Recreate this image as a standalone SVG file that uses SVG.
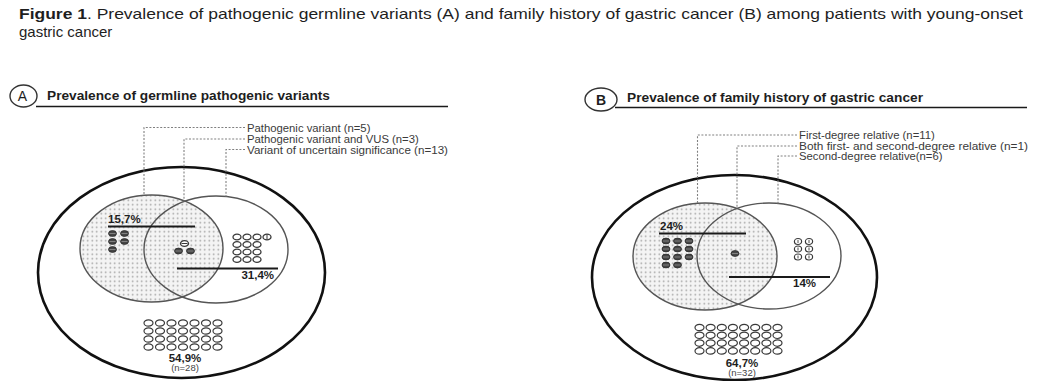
<svg xmlns="http://www.w3.org/2000/svg" xmlns:xlink="http://www.w3.org/1999/xlink" width="1050" height="381" viewBox="0 0 1050 381">
<style>
text{font-family:"Liberation Sans",Arial,Helvetica,sans-serif;fill:#1e1e1e}
.title{font-size:15px}
.hdr{font-size:13.5px;font-weight:bold}
.tag{font-size:14px}
.leg{font-size:11.3px;fill:#3a3a3a}
.pct{font-size:11.5px;font-weight:bold}
.n{font-size:9.5px;fill:#444}
.outer{fill:none;stroke:#111;stroke-width:2.6}
.venn{stroke:#555;stroke-width:1.4}
.rule{stroke:#1a1a1a;stroke-width:1.3}
.bar{stroke:#1a1a1a;stroke-width:2}
.dash{fill:none;stroke:#808080;stroke-width:1.1;stroke-dasharray:2 1.6}
.tagring{fill:none;stroke:#333;stroke-width:1.4}
</style>
<defs>
<pattern id="dots" width="4.5" height="4.5" patternUnits="userSpaceOnUse">
<rect width="4.5" height="4.5" fill="#f4f4f4"/>
<circle cx="2.25" cy="2.25" r="0.8" fill="#9c9c9c"/>
</pattern>
<g id="fd"><ellipse rx="4" ry="2.9" fill="#454545" stroke="#2a2a2a" stroke-width="0.8"/><line x1="-3" y1="0" x2="3" y2="0" stroke="#9a9a9a" stroke-width="0.7"/></g>
<g id="od"><ellipse rx="4" ry="2.9" fill="#fff" stroke="#3a3a3a" stroke-width="1.3"/></g>
<g id="odm"><ellipse rx="4" ry="2.9" fill="#fff" stroke="#3a3a3a" stroke-width="1.3"/><line x1="0" y1="-2.7" x2="0" y2="2.7" stroke="#3a3a3a" stroke-width="1"/></g>
<g id="odh"><ellipse rx="4" ry="2.9" fill="#fff" stroke="#3a3a3a" stroke-width="1.3"/><line x1="-3" y1="0" x2="3" y2="0" stroke="#3a3a3a" stroke-width="1"/></g>
<g id="ob"><ellipse rx="4.5" ry="3.2" fill="#fff" stroke="#3a3a3a" stroke-width="1.2"/></g>
<g id="os"><ellipse rx="3.6" ry="3" fill="#fff" stroke="#3a3a3a" stroke-width="1.2"/><line x1="0" y1="-1.5" x2="0" y2="1.5" stroke="#3a3a3a" stroke-width="0.9"/></g>
</defs>
<rect width="1050" height="381" fill="#fff"/>

<g id="title">
<text class="title" x="19" y="19" textLength="1004" lengthAdjust="spacingAndGlyphs"><tspan font-weight="bold">Figure 1</tspan>. Prevalence of pathogenic germline variants (A) and family history of gastric cancer (B) among patients with young-onset</text>
<text class="title" x="19" y="37">gastric cancer</text>
</g>

<!-- Panel A header -->
<g id="headerA">
<ellipse class="tagring" cx="23.5" cy="96" rx="13.5" ry="11"/>
<text class="tag" x="22.5" y="101" text-anchor="middle">A</text>
<line class="rule" x1="36" y1="106.5" x2="448" y2="106.5"/>
<text class="hdr" x="47" y="100" textLength="283" lengthAdjust="spacingAndGlyphs">Prevalence of germline pathogenic variants</text>
</g>

<!-- Panel B header -->
<g id="headerB">
<ellipse class="tagring" cx="601" cy="99.5" rx="16" ry="11.5"/>
<text class="tag" x="601" y="104.5" text-anchor="middle" font-weight="bold">B</text>
<line class="rule" x1="615" y1="107.5" x2="1027" y2="107.5"/>
<text class="hdr" x="627" y="102" textLength="296" lengthAdjust="spacingAndGlyphs">Prevalence of family history of gastric cancer</text>
</g>

<!-- Panel A nodes -->
<g id="A-outer"><ellipse class="outer" cx="181.5" cy="272.5" rx="143.5" ry="105.5"/></g>
<g id="A-pathogenic"><ellipse class="venn" cx="151.5" cy="248.5" rx="71.5" ry="53.5" fill="url(#dots)"/></g>
<g id="A-vus"><ellipse class="venn" cx="216" cy="249.5" rx="72" ry="53.5" fill="none"/></g>

<g id="A-legend">
<text class="leg" x="247" y="131.5">Pathogenic variant (n=5)</text>
<text class="leg" x="247" y="143">Pathogenic variant and VUS (n=3)</text>
<text class="leg" x="247" y="153.5" textLength="201" lengthAdjust="spacingAndGlyphs">Variant of uncertain significance (n=13)</text>
</g>

<g id="A-left-group">
<text class="pct" x="108" y="223">15,7%</text>
<line class="bar" x1="108" y1="226.5" x2="195" y2="226.5"/>
<use xlink:href="#fd" x="112.5" y="233.5"/><use xlink:href="#fd" x="124.5" y="233.5"/>
<use xlink:href="#fd" x="112.5" y="241.5"/><use xlink:href="#fd" x="124.5" y="241.5"/>
<use xlink:href="#fd" x="112.5" y="249.5"/>
</g>

<g id="A-mid-group">
<use xlink:href="#odh" x="184.5" y="243.5"/>
<use xlink:href="#fd" x="178.5" y="251"/><use xlink:href="#fd" x="190.5" y="251"/>
</g>

<g id="A-right-group">
<use xlink:href="#od" x="237" y="237"/><use xlink:href="#od" x="247" y="237"/><use xlink:href="#od" x="257" y="237"/><use xlink:href="#odm" x="267" y="237"/>
<use xlink:href="#od" x="237" y="244.5"/><use xlink:href="#od" x="247" y="244.5"/><use xlink:href="#od" x="257" y="244.5"/>
<use xlink:href="#od" x="237" y="252"/><use xlink:href="#od" x="247" y="252"/><use xlink:href="#od" x="257" y="252"/>
<use xlink:href="#od" x="237" y="259.5"/><use xlink:href="#od" x="247" y="259.5"/><use xlink:href="#od" x="257" y="259.5"/>
<line class="bar" x1="177" y1="268.5" x2="278" y2="268.5"/>
<text class="pct" x="274" y="278.5" text-anchor="end">31,4%</text>
</g>

<g id="A-none-group">
<g>
<use xlink:href="#ob" x="148.5" y="323"/><use xlink:href="#ob" x="160" y="323"/><use xlink:href="#ob" x="171.5" y="323"/><use xlink:href="#ob" x="183" y="323"/><use xlink:href="#ob" x="194.5" y="323"/><use xlink:href="#ob" x="206" y="323"/><use xlink:href="#ob" x="217.5" y="323"/>
<use xlink:href="#ob" x="148.5" y="331"/><use xlink:href="#ob" x="160" y="331"/><use xlink:href="#ob" x="171.5" y="331"/><use xlink:href="#ob" x="183" y="331"/><use xlink:href="#ob" x="194.5" y="331"/><use xlink:href="#ob" x="206" y="331"/><use xlink:href="#ob" x="217.5" y="331"/>
<use xlink:href="#ob" x="148.5" y="339"/><use xlink:href="#ob" x="160" y="339"/><use xlink:href="#ob" x="171.5" y="339"/><use xlink:href="#ob" x="183" y="339"/><use xlink:href="#ob" x="194.5" y="339"/><use xlink:href="#ob" x="206" y="339"/><use xlink:href="#ob" x="217.5" y="339"/>
<use xlink:href="#ob" x="148.5" y="347"/><use xlink:href="#ob" x="160" y="347"/><use xlink:href="#ob" x="171.5" y="347"/><use xlink:href="#ob" x="183" y="347"/><use xlink:href="#ob" x="194.5" y="347"/><use xlink:href="#ob" x="206" y="347"/><use xlink:href="#ob" x="217.5" y="347"/>
</g>
<text class="pct" x="185" y="361.5" text-anchor="middle">54,9%</text>
<text class="n" x="185" y="370.5" text-anchor="middle">(n=28)</text>
</g>

<!-- Panel B nodes -->
<g id="B-outer"><ellipse class="outer" cx="734.5" cy="277.5" rx="142.5" ry="102.5"/></g>
<g id="B-first"><ellipse class="venn" cx="705" cy="256.5" rx="72" ry="53.5" fill="url(#dots)"/></g>
<g id="B-second"><ellipse class="venn" cx="769" cy="256" rx="72" ry="53" fill="none"/></g>

<g id="B-legend">
<text class="leg" x="799" y="139">First-degree relative (n=11)</text>
<text class="leg" x="799" y="150" textLength="229" lengthAdjust="spacingAndGlyphs">Both first- and second-degree relative (n=1)</text>
<text class="leg" x="799" y="160">Second-degree relative(n=6)</text>
</g>

<g id="B-left-group">
<text class="pct" x="660" y="230">24%</text>
<line class="bar" x1="659" y1="233.5" x2="746" y2="233.5"/>
<use xlink:href="#fd" x="666" y="241"/><use xlink:href="#fd" x="677.5" y="241"/><use xlink:href="#fd" x="689" y="241"/>
<use xlink:href="#fd" x="666" y="249"/><use xlink:href="#fd" x="677.5" y="249"/><use xlink:href="#fd" x="689" y="249"/>
<use xlink:href="#fd" x="666" y="257"/><use xlink:href="#fd" x="677.5" y="257"/><use xlink:href="#fd" x="689" y="257"/>
<use xlink:href="#fd" x="666" y="265"/><use xlink:href="#fd" x="677.5" y="265"/>
</g>

<g id="B-mid-group">
<use xlink:href="#fd" x="735" y="253.5"/>
</g>

<g id="B-right-group">
<use xlink:href="#os" x="798" y="241.5"/><use xlink:href="#os" x="809" y="241.5"/>
<use xlink:href="#os" x="798" y="249"/><use xlink:href="#os" x="809" y="249"/>
<use xlink:href="#os" x="798" y="257"/><use xlink:href="#os" x="809" y="257"/>
<line class="bar" x1="729" y1="277" x2="830" y2="277"/>
<text class="pct" x="804.5" y="287" text-anchor="middle">14%</text>
</g>

<g id="B-none-group">
<g>
<use xlink:href="#ob" x="699.5" y="327.5"/><use xlink:href="#ob" x="710.6" y="327.5"/><use xlink:href="#ob" x="721.8" y="327.5"/><use xlink:href="#ob" x="732.9" y="327.5"/><use xlink:href="#ob" x="744.1" y="327.5"/><use xlink:href="#ob" x="755.2" y="327.5"/><use xlink:href="#ob" x="766.4" y="327.5"/><use xlink:href="#ob" x="777.5" y="327.5"/>
<use xlink:href="#ob" x="699.5" y="335.3"/><use xlink:href="#ob" x="710.6" y="335.3"/><use xlink:href="#ob" x="721.8" y="335.3"/><use xlink:href="#ob" x="732.9" y="335.3"/><use xlink:href="#ob" x="744.1" y="335.3"/><use xlink:href="#ob" x="755.2" y="335.3"/><use xlink:href="#ob" x="766.4" y="335.3"/><use xlink:href="#ob" x="777.5" y="335.3"/>
<use xlink:href="#ob" x="699.5" y="343.1"/><use xlink:href="#ob" x="710.6" y="343.1"/><use xlink:href="#ob" x="721.8" y="343.1"/><use xlink:href="#ob" x="732.9" y="343.1"/><use xlink:href="#ob" x="744.1" y="343.1"/><use xlink:href="#ob" x="755.2" y="343.1"/><use xlink:href="#ob" x="766.4" y="343.1"/><use xlink:href="#ob" x="777.5" y="343.1"/>
<use xlink:href="#ob" x="699.5" y="350.9"/><use xlink:href="#ob" x="710.6" y="350.9"/><use xlink:href="#ob" x="721.8" y="350.9"/><use xlink:href="#ob" x="732.9" y="350.9"/><use xlink:href="#ob" x="744.1" y="350.9"/><use xlink:href="#ob" x="755.2" y="350.9"/><use xlink:href="#ob" x="766.4" y="350.9"/><use xlink:href="#ob" x="777.5" y="350.9"/>
</g>
<text class="pct" x="742" y="367" text-anchor="middle">64,7%</text>
<text class="n" x="742" y="376" text-anchor="middle">(n=32)</text>
</g>

<g id="connectors">
<polyline class="dash" points="245,127.5 144,127.5 144,195.5"/>
<polyline class="dash" points="245,139 184,139 184,201.5"/>
<polyline class="dash" points="245,149.5 226,149.5 226,196.5"/>
<polyline class="dash" points="797,135 697.5,135 697.5,203.2"/>
<polyline class="dash" points="797,146 737,146 737,208.5"/>
<polyline class="dash" points="797,156 778,156 778,203.4"/>
</g>
</svg>
